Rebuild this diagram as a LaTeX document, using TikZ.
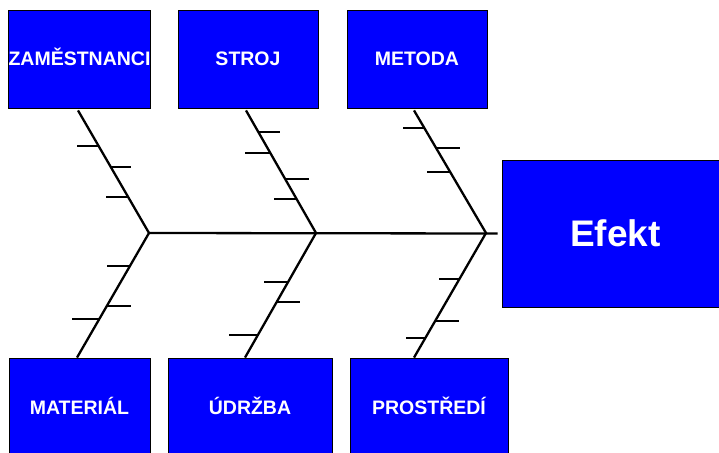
\documentclass[tikz,border=0pt]{standalone}
\usepackage{fontspec}
\setmainfont{Liberation Sans}
\usetikzlibrary{calc}
\definecolor{kostblue}{RGB}{0,0,255}
\tikzset{
  cause/.style={rectangle, draw=black, line width=0.8pt, fill=kostblue, text=white, font=\fontsize{19.5}{22}\selectfont\bfseries, inner sep=0pt, minimum height=98pt, text height=14pt, text depth=0pt},
  effect/.style={cause, font=\fontsize{37}{42}\selectfont\bfseries, text height=26.5pt, minimum width=227pt, minimum height=147pt},
  bone/.style={line width=2.3pt, line join=miter},
  tick/.style={line width=2.3pt}
}

\begin{document}
\begin{tikzpicture}[x=1pt, y=-1pt]

    \useasboundingbox (0,0) rectangle (719,452);
    \clip (0,0) rectangle (719,452);

    % ==========================================
    % PRICINY A EFEKT
    % ==========================================

    % Horni rada
    \node[cause, minimum width=141pt] (zam) at (79.5,59) {ZAMĚSTNANCI};
    \node[cause, minimum width=140pt] (stroj) at (248,59) {STROJ};
    \node[cause, minimum width=140pt] (metoda) at (417,59) {METODA};

    % Dolni rada
    \node[cause, minimum width=141pt] (mat) at (79.5,407) {MATERIÁL};
    \node[cause, minimum width=164pt] (udr) at (250,407) {ÚDRŽBA};
    \node[cause, minimum width=158pt] (pros) at (429,407) {PROSTŘEDÍ};

    % Efekt (hlava ryby)
    \node[effect] (efekt) at (615.5,233.5) {Efekt};

    % ==========================================
    % KOSTI
    % ==========================================

    % Napojeni na hrbet
    \coordinate (j1) at (149,233);
    \coordinate (j2) at (316,233);
    \coordinate (j3) at (486,233);
    \coordinate (hrbet) at ([xshift=-4pt]efekt.west);

    % Konce kosti u boxu
    \coordinate (zamk) at ([xshift=-1.5pt,yshift=-2pt]zam.south);
    \coordinate (strojk) at ([xshift=-2pt,yshift=-2pt]stroj.south);
    \coordinate (metodak) at ([xshift=-3pt,yshift=-2pt]metoda.south);
    \coordinate (matk) at ([xshift=-2.5pt]mat.north);
    \coordinate (udrk) at ([xshift=-5pt]udr.north);
    \coordinate (prosk) at ([xshift=-15pt]pros.north);

    % Hrbet
    \draw[bone] (j1) -- (hrbet);

    % Sikme kosti
    \draw[bone] (zamk) -- (j1) -- (matk);
    \draw[bone] (strojk) -- (j2) -- (udrk);
    \draw[bone] (metodak) -- (j3) -- (prosk);

    % Male kosti (zaporna delka = vlevo)
    \foreach \a/\b/\f/\l in {
        zamk/j1/0.293/-22, zamk/j1/0.463/20, zamk/j1/0.707/-22,
        strojk/j2/0.179/21, strojk/j2/0.350/-26, strojk/j2/0.561/24, strojk/j2/0.724/-23,
        metodak/j3/0.146/-22, metodak/j3/0.309/24, metodak/j3/0.504/-23,
        j1/matk/0.264/-23, j1/matk/0.584/24, j1/matk/0.688/-27,
        j2/udrk/0.392/-24, j2/udrk/0.552/23, j2/udrk/0.816/-29,
        j3/prosk/0.368/-21, j3/prosk/0.704/24, j3/prosk/0.840/-20
    } {
        \draw[tick] ($(\a)!\f!(\b)$) -- ++(\l,0);
    }

\end{tikzpicture}
\end{document}
